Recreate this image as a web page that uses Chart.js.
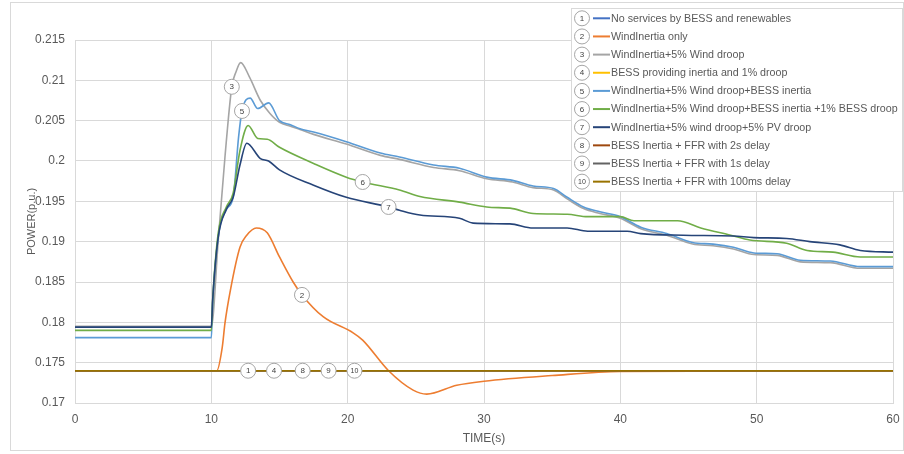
<!DOCTYPE html>
<html>
<head>
<meta charset="utf-8">
<script src="https://cdn.jsdelivr.net/npm/chart.js@4.4.0/dist/chart.umd.min.js"></script>
<style>
  html, body { margin: 0; padding: 0; background: #fff; }
  #wrap { position: relative; width: 904px; height: 454px; }
</style>
</head>
<body>
<div id="wrap"><canvas id="powerChart" width="904" height="454"></canvas></div>
<script>
// series names, in legend order (1..10)
const seriesNames = [
  'No services by BESS and renewables',
  'WindInertia only',
  'WindInertia+5% Wind droop',
  'BESS providing inertia and 1% droop',
  'WindInertia+5% Wind droop+BESS inertia',
  'WindInertia+5% Wind droop+BESS inertia +1% BESS droop',
  'WindInertia+5% wind droop+5% PV droop',
  'BESS Inertia + FFR with 2s delay',
  'BESS Inertia + FFR with 1s delay',
  'BESS Inertia + FFR with 100ms delay'
];
const seriesColors = ['#4472C4', '#ED7D31', '#A5A5A5', '#FFC000', '#5B9BD5',
                      '#70AD47', '#264478', '#9E480E', '#636363', '#997300'];

// time (s) / power (p.u.) per series
const time1 = [0, 12.7, 60];
const power1 = [0.174, 0.174, 0.174];

const time2 = [0, 10.4, 10.8, 11.0, 11.4, 12.1, 12.6, 13.3, 14.1, 15.0, 16.0, 16.65, 18.2, 20.4, 21.1, 23.0, 24.8, 25.8, 28, 30, 35, 40, 60];
const power2 = [0.174, 0.174, 0.1769, 0.1799, 0.1840, 0.1893, 0.1908, 0.1917, 0.1911, 0.1881, 0.1850, 0.1834, 0.1807, 0.1787, 0.1778, 0.1740, 0.1716, 0.1711, 0.1722, 0.1727, 0.1734, 0.1739, 0.174];

const time3 = [0, 10, 10.5, 11.0, 11.5, 11.8, 12.15, 12.8, 13.6, 14.3, 15, 15.8, 16.5, 17.5, 19.9, 22.4, 23.8, 26.3, 28.2, 30.2, 32.1, 33.6, 35.1, 36.1, 37.3, 38.5, 40, 41.5, 43.4, 45.3, 46.8, 48.3, 49.8, 51.5, 53.2, 55.4, 57.6, 60];
const power3 = [0.1795, 0.1795, 0.1900, 0.2005, 0.2092, 0.2110, 0.2122, 0.2104, 0.2075, 0.2059, 0.2048, 0.2043, 0.2039, 0.2033, 0.2021, 0.2007, 0.2002, 0.1992, 0.1988, 0.1978, 0.1974, 0.1967, 0.1964, 0.1953, 0.1941, 0.1935, 0.1929, 0.1916, 0.1908, 0.1897, 0.1895, 0.1891, 0.1884, 0.1883, 0.1875, 0.1874, 0.1867, 0.1867];

const time4 = [0, 14.6, 60];
const power4 = [0.174, 0.174, 0.174];

const time5 = [0, 10, 10.1, 10.5, 11.1, 11.6, 12.0, 12.25, 12.85, 13.4, 14.2, 15, 15.8, 16.5, 17.5, 19.9, 22.4, 23.8, 26.3, 28.2, 30.2, 32.1, 33.6, 35.1, 36.1, 37.3, 38.5, 40, 41.5, 43.4, 45.3, 46.8, 48.3, 49.8, 51.5, 53.2, 55.4, 57.6, 60];
const power5 = [0.1781, 0.1781, 0.1825, 0.1905, 0.1940, 0.1955, 0.2030, 0.2062, 0.2078, 0.2065, 0.2072, 0.2050, 0.2045, 0.2040, 0.2036, 0.2024, 0.2010, 0.2005, 0.1995, 0.1991, 0.1980, 0.1976, 0.1969, 0.1966, 0.1955, 0.1943, 0.1937, 0.1931, 0.1918, 0.1910, 0.1899, 0.1897, 0.1893, 0.1886, 0.1885, 0.1877, 0.1876, 0.1869, 0.1869];

const time6 = [0, 10, 10.1, 10.5, 11.1, 11.6, 12.1, 12.7, 13.4, 14.1, 15, 17.5, 19.9, 21.1, 23.8, 25.3, 28.2, 30.2, 32.1, 33.6, 36.1, 37.6, 40, 41, 44.2, 45.9, 48.1, 49.5, 52.2, 53.7, 55.6, 57.6, 60];
const power6 = [0.1790, 0.1790, 0.1828, 0.1910, 0.1943, 0.1960, 0.2013, 0.2044, 0.2028, 0.2027, 0.2017, 0.1997, 0.1980, 0.1974, 0.1964, 0.1956, 0.1949, 0.1943, 0.1941, 0.1935, 0.1934, 0.1931, 0.1931, 0.1926, 0.1926, 0.1917, 0.1908, 0.1902, 0.1898, 0.1889, 0.1887, 0.1881, 0.1881];

const time7 = [0, 10, 10.1, 10.5, 11.1, 11.6, 12.1, 12.6, 13.6, 14.2, 15, 17.5, 19.9, 23, 23.8, 25.3, 28.2, 29.2, 31.9, 33.6, 36.1, 37.6, 40.5, 41.5, 44.6, 48.3, 49.8, 52.2, 53.9, 56.1, 57.6, 60];
const power7 = [0.1794, 0.1794, 0.1828, 0.1905, 0.1940, 0.1955, 0.1995, 0.2022, 0.2003, 0.2000, 0.1989, 0.1970, 0.1955, 0.1943, 0.1939, 0.1933, 0.1929, 0.1923, 0.1922, 0.1917, 0.1917, 0.1913, 0.1913, 0.1910, 0.1908, 0.1907, 0.1905, 0.1904, 0.1900, 0.1896, 0.1889, 0.1887];

const time8 = [0, 16.7, 60];
const power8 = [0.174, 0.174, 0.174];

const time9 = [0, 18.6, 60];
const power9 = [0.174, 0.174, 0.174];

const time10 = [0, 20.5, 60];
const power10 = [0.174, 0.174, 0.174];

// where the numbered tag sits on each line
const tagTimes = [12.7, 16.65, 11.5, 14.6, 12.25, 21.1, 23, 16.7, 18.6, 20.5];

const xTickLabels = ['0', '10', '20', '30', '40', '50', '60'];
const yTickLabels = ['0.17', '0.175', '0.18', '0.185', '0.19', '0.195', '0.2', '0.205', '0.21', '0.215'];

const allTimes = [time1, time2, time3, time4, time5, time6, time7, time8, time9, time10];
const allPowers = [power1, power2, power3, power4, power5, power6, power7, power8, power9, power10];

const FONT = '"Liberation Sans", Arial, sans-serif';
const TEXT = '#595959';
const GRID = '#D9D9D9';

const datasets = seriesNames.map((name, i) => ({
  label: name,
  data: allTimes[i].map((t, k) => ({ x: t, y: allPowers[i][k] })),
  borderColor: seriesColors[i],
  backgroundColor: seriesColors[i],
  borderWidth: 1.6,
  pointRadius: 0,
  cubicInterpolationMode: 'monotone',
  order: seriesNames.length - i   // later series on top
}));

function drawTag(ctx, x, y, text) {
  ctx.save();
  ctx.beginPath();
  ctx.arc(x, y, 7.5, 0, Math.PI * 2);
  ctx.fillStyle = '#fff';
  ctx.fill();
  ctx.lineWidth = 1;
  ctx.strokeStyle = '#A6A6A6';
  ctx.stroke();
  ctx.fillStyle = '#404040';
  ctx.font = (text.length > 1 ? '7px ' : '8px ') + FONT;
  ctx.textAlign = 'center';
  ctx.textBaseline = 'middle';
  ctx.fillText(text, x, y + 0.5);
  ctx.restore();
}

// outer frame around the whole chart
const framePlugin = {
  id: 'frame',
  beforeDraw(chart) {
    const ctx = chart.ctx;
    ctx.save();
    ctx.fillStyle = '#fff';
    ctx.fillRect(0, 0, chart.width, chart.height);
    ctx.strokeStyle = GRID;
    ctx.lineWidth = 1;
    ctx.strokeRect(10.5, 2.5, 893, 448);
    ctx.restore();
  }
};

// numbered circles on the lines
const tagPlugin = {
  id: 'tags',
  afterDatasetsDraw(chart) {
    const ctx = chart.ctx;
    tagTimes.forEach((t, i) => {
      const idx = allTimes[i].indexOf(t);
      const pt = chart.getDatasetMeta(i).data[idx];
      if (pt) drawTag(ctx, pt.x, pt.y, String(i + 1));
    });
  }
};

// legend box drawn over the top-right of the plot
const legendPlugin = {
  id: 'boxLegend',
  afterDraw(chart) {
    const ctx = chart.ctx;
    const left = 571, top = 8, right = 903, bottom = 192;
    ctx.save();
    ctx.fillStyle = '#fff';
    ctx.fillRect(left, top, right - left, bottom - top);
    ctx.strokeStyle = GRID;
    ctx.lineWidth = 1;
    ctx.strokeRect(left + 0.5, top + 0.5, right - left - 1, bottom - top - 1);
    seriesNames.forEach((name, i) => {
      const y = 18.3 + i * 18.15;
      drawTag(ctx, 582, y, String(i + 1));
      ctx.strokeStyle = seriesColors[i];
      ctx.lineWidth = 2;
      ctx.beginPath();
      ctx.moveTo(593, y);
      ctx.lineTo(610, y);
      ctx.stroke();
      ctx.fillStyle = TEXT;
      ctx.font = '10.7px ' + FONT;
      ctx.textAlign = 'left';
      ctx.textBaseline = 'middle';
      ctx.fillText(name, 611, y + 0.5);
    });
    ctx.restore();
  }
};

new Chart(document.getElementById('powerChart'), {
  type: 'line',
  data: { datasets },
  options: {
    responsive: false,
    animation: false,
    events: [],
    layout: { padding: { left: 25, right: 11, top: 40, bottom: 8 } },
    plugins: {
      legend: { display: false },
      tooltip: { enabled: false }
    },
    scales: {
      x: {
        type: 'linear',
        min: 0,
        max: 60,
        ticks: {
          stepSize: 10,
          padding: 9,
          color: TEXT,
          font: { family: FONT, size: 12 },
          callback: (v) => xTickLabels[Math.round(v / 10)]
        },
        grid: { color: GRID, drawTicks: false },
        border: { color: GRID },
        title: { display: true, text: 'TIME(s)', color: TEXT, font: { family: FONT, size: 12 }, padding: { top: 2, bottom: 0 } },
        afterFit(scale) {
          scale.height = 43;
          scale.paddingLeft = 0;
          scale.paddingRight = 0;
        }
      },
      y: {
        min: 0.17,
        max: 0.215,
        ticks: {
          stepSize: 0.005,
          padding: 10,
          color: TEXT,
          font: { family: FONT, size: 12 },
          callback: (v) => yTickLabels[Math.round((v - 0.17) / 0.005)]
        },
        grid: { color: GRID, drawTicks: false },
        border: { color: GRID },
        title: { display: true, text: 'POWER(p.u.)', color: TEXT, font: { family: FONT, size: 11 }, padding: { top: 0, bottom: 0 } },
        afterFit(scale) { scale.width = 50; }
      }
    }
  },
  plugins: [framePlugin, tagPlugin, legendPlugin]
});
</script>
</body>
</html>
